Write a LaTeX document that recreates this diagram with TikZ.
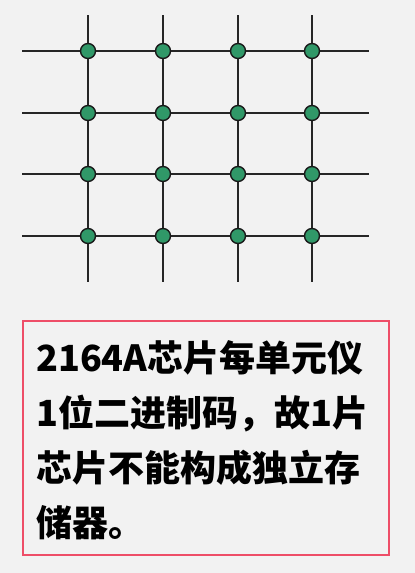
\documentclass[tikz,border=0pt]{standalone}
\usepackage{fontspec}
\newfontfamily\cjk{Noto Sans CJK SC}
\usepackage{tikz}
\definecolor{bgGray}{RGB}{242,242,242}
\definecolor{cellGreen}{RGB}{48,152,104}
\definecolor{boxPink}{RGB}{238,78,104}
\tikzset{
  wire/.style={line width=1.5pt, black!85},
  cell/.style={circle, draw=black!90, line width=1.4pt, fill=cellGreen, minimum size=15pt, inner sep=0pt},
  notebox/.style={draw=boxPink, line width=1.1pt, fill=bgGray}
}

\begin{document}
\begin{tikzpicture}[x=1pt,y=-1pt]
		%%%%% START %%%%%
		\fill[bgGray] (0, 0) rectangle (415, 573);
		\useasboundingbox (0, 0) rectangle (415, 573);
		
		% word lines and bit lines
		\foreach \yy in {51, 113, 174, 236}
			\draw[wire] (22, \yy) -- (369, \yy);
		\foreach \xx in {88, 163, 238, 312}
			\draw[wire] (\xx, 15) -- (\xx, 282);
		
		% storage cells
		\foreach \xx [count=\i] in {88, 163, 238, 312}
			\foreach \yy [count=\j] in {51, 113, 174, 236}
				\node[cell] (c\j\i) at (\xx, \yy) {};
		
		% note
		\draw[notebox] (23, 321) rectangle (389, 555);
		\node[anchor=north west, align=left, inner sep=0pt,
			font=\cjk\bfseries\fontsize{36}{55}\selectfont] (note) at (36, 340)
			{2164A芯片每单元仪\\1位二进制码，故1片\\芯片不能构成独立存\\储器。};
		%%%%% END %%%%%
	\end{tikzpicture}
\end{document}
